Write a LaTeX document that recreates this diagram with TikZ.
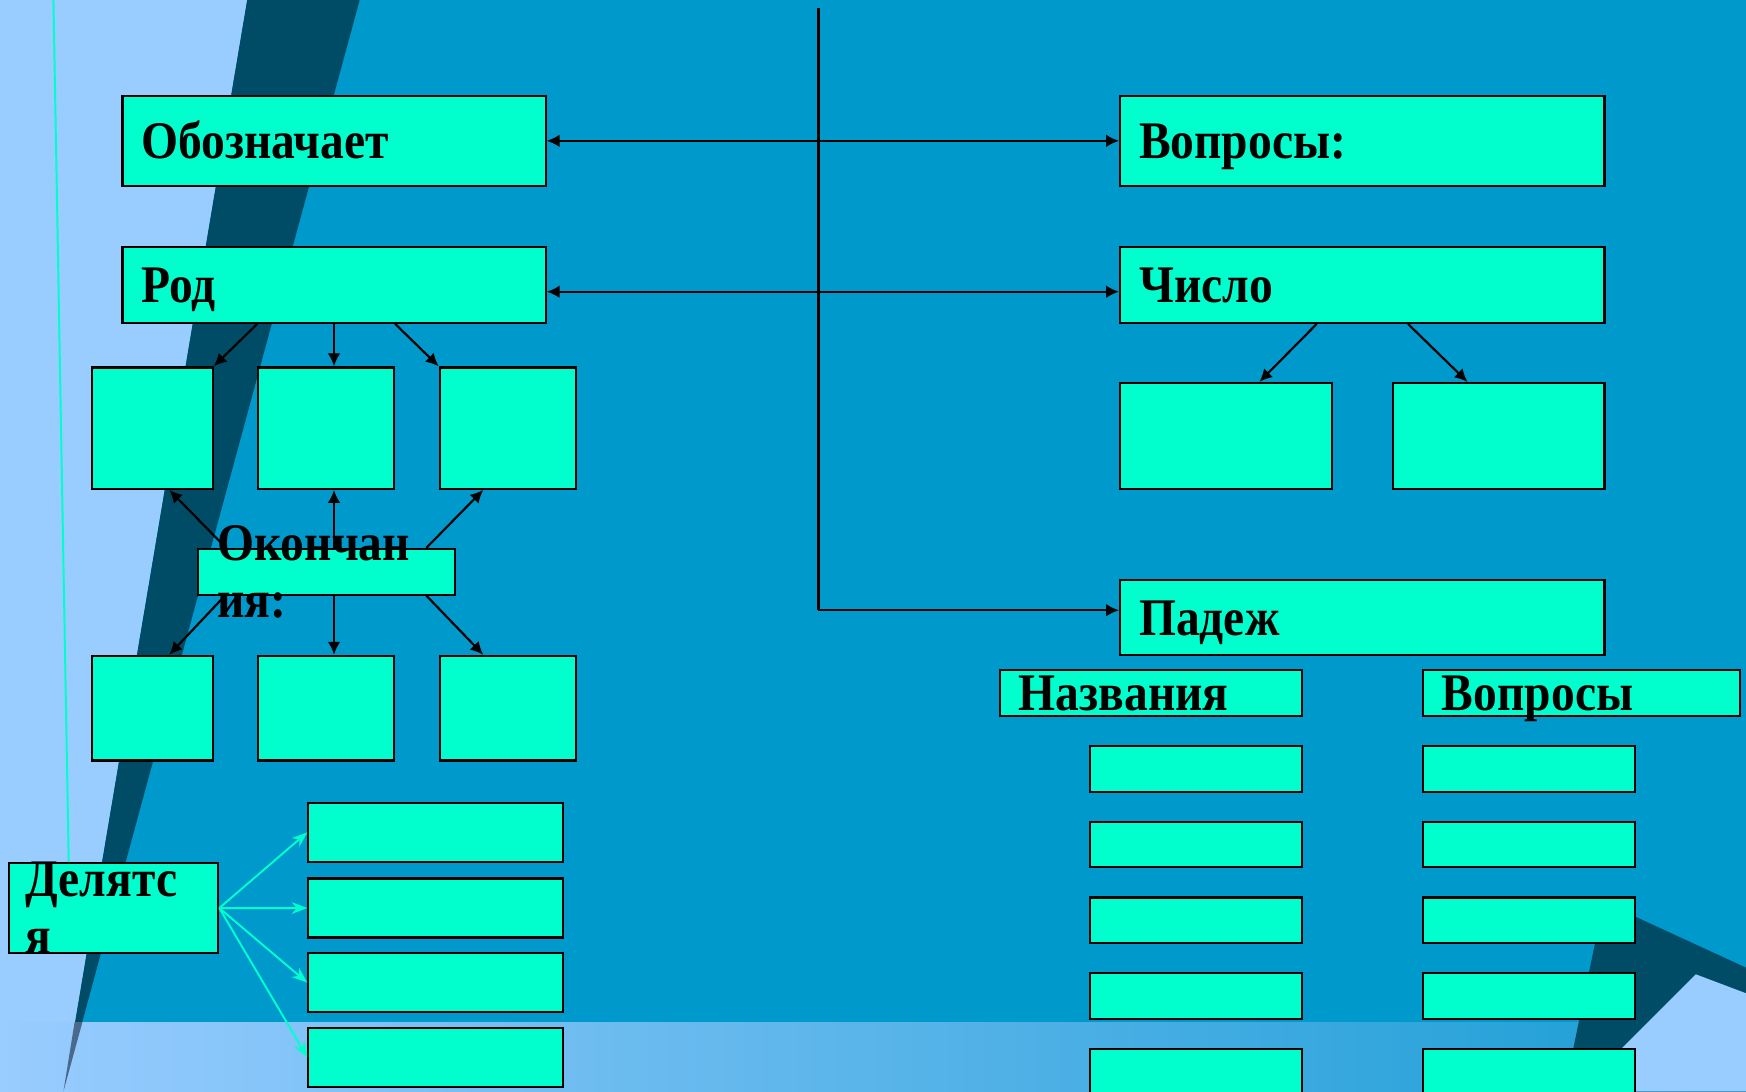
\documentclass[tikz,border=0pt]{standalone}
\usepackage{fontspec}
\setmainfont{Liberation Serif}[FakeStretch=0.9]
\usetikzlibrary{arrows.meta,positioning,calc}
\definecolor{bgmain}{RGB}{0,153,204}
\definecolor{bglight}{RGB}{153,204,255}
\definecolor{bgdark}{RGB}{0,76,102}
\definecolor{bandr}{RGB}{25,157,212}
\definecolor{stripeb}{RGB}{75,105,140}
\definecolor{cell}{RGB}{0,255,204}
\tikzset{
  cellbox/.style={rectangle, draw=black, line width=0.55pt, fill=cell, inner sep=0pt,
                  anchor=north west},
  ttl/.style={cellbox, font=\bfseries\fontsize{13.5}{14.5}\selectfont, align=left,
              text height=9pt, text depth=0pt},
  wraptxt/.style={font=\bfseries\fontsize{13.5}{14.5}\selectfont, align=left, inner sep=0pt},
  ar/.style={-{Latex[length=3.3pt,width=3.2pt]}, line width=0.55pt},
  arr/.style={{Latex[length=3.3pt,width=3.2pt]}-{Latex[length=3.3pt,width=3.2pt]}, line width=0.55pt},
  arc/.style={-{Stealth[length=4pt,width=3pt]}, draw=cell, line width=0.5pt},
  ln/.style={line width=0.55pt},
}

\begin{document}
\begin{tikzpicture}[x=0.1mm,y=-0.1mm]
\useasboundingbox (0,0) rectangle (1568,980);

% ===================== background =====================
\fill[bgmain] (0,0) rectangle (1568,980);
\fill[bglight] (0,0) -- (222,0) -- (57,980) -- (0,980) -- cycle;
\fill[bgdark] (222,0) -- (323,0) -- (57,980) -- cycle;
\draw[cell, line width=0.5pt] (48,0) -- (62,790);
\shade[left color=bglight, right color=bandr] (0,918) rectangle (1568,980);
\fill[stripeb] (67,918) -- (74,918) -- (57,980) -- cycle;
\fill[bgdark] (1440,810) -- (1568,869) -- (1568,980) -- (1405,980) -- cycle;
\fill[bglight] (1523,875) -- (1568,892) -- (1568,980) -- (1418,980) -- cycle;

% ===================== left: Род =====================
\node[ttl, minimum width=3.80cm, minimum height=0.81cm, text width=3.46cm] (obz) at (109,85) {Обозначает};
\node[ttl, minimum width=3.80cm, minimum height=0.68cm, text width=3.46cm] (rod) at (109,221) {Род};

\node[cellbox, minimum width=1.08cm, minimum height=1.09cm] (r1a) at (82,329) {};
\node[cellbox, minimum width=1.22cm, minimum height=1.09cm] (r1b) at (231,329) {};
\node[cellbox, minimum width=1.22cm, minimum height=1.09cm] (r1c) at (394,329) {};

\node[cellbox, minimum width=2.31cm, minimum height=0.41cm,
      label={[wraptxt, text width=1.97cm]center:{Окончан\\ия:}}] (ok) at (177,492) {};

\node[cellbox, minimum width=1.08cm, minimum height=0.94cm] (r2a) at (82,588) {};
\node[cellbox, minimum width=1.22cm, minimum height=0.94cm] (r2b) at (231,588) {};
\node[cellbox, minimum width=1.22cm, minimum height=0.94cm] (r2c) at (394,588) {};

\draw[ar] (rod.south -| r1b.west) -- (r1a.north east);
\draw[ar] (rod.south) -- (rod.south |- r1b.north);
\draw[ar] (rod.south -| r1b.east) -- (r1c.north west);

\draw[ar] ($(ok.north west)+(26,0)$) -- ($(r1a.south)+(15,0)$);
\draw[ar] (rod.south |- ok.north) -- (rod.south |- r1b.south);
\draw[ar] ($(ok.north east)+(-27,0)$) -- ($(r1c.south west)+(40,0)$);
\draw[ar] ($(ok.south west)+(25,0)$) -- ($(r2a.north)+(15,0)$);
\draw[ar] (rod.south |- ok.south) -- (rod.south |- r2b.north);
\draw[ar] ($(ok.south east)+(-27,0)$) -- ($(r2c.north west)+(40,0)$);

% ===================== left: Делятся =====================
\node[cellbox, minimum width=1.88cm, minimum height=0.81cm,
      label={[wraptxt, text width=1.58cm]center:{Делятс\\я}}] (del) at (7,774) {};
\foreach \i/\y in {1/720,2/788,3/855,4/922}
  \node[cellbox, minimum width=2.29cm, minimum height=0.53cm] (d\i) at (276,\y) {};
\foreach \i in {1,...,4}
  \draw[arc] (del.east) -- (d\i.west);

% ===================== right =====================
\node[ttl, minimum width=4.35cm, minimum height=0.81cm, text width=4.01cm] (vopr) at (1005,85) {Вопросы:};
\node[ttl, minimum width=4.35cm, minimum height=0.68cm, text width=4.01cm] (chislo) at (1005,221) {Число};
\node[cellbox, minimum width=1.90cm, minimum height=0.95cm] (n1) at (1005,343) {};
\node[cellbox, minimum width=1.90cm, minimum height=0.95cm] (n2) at (1250,343) {};
\node[ttl, minimum width=4.35cm, minimum height=0.67cm, text width=4.01cm] (pad) at (1005,520) {Падеж};

\draw[ar] ($(chislo.south)+(-41,0)$) -- ($(n1.north)+(30,0)$);
\draw[ar] ($(chislo.south)+(41,0)$) -- ($(n2.north)+(-28,0)$);

\node[ttl, minimum width=2.71cm, minimum height=0.41cm, text width=2.37cm] (nz) at (897,601) {Названия};
\node[ttl, minimum width=2.85cm, minimum height=0.41cm, text width=2.51cm] (vq) at (1277,601) {Вопросы};
\foreach \i/\y in {1/669,2/737,3/805,4/873,5/941} {
  \node[cellbox, minimum width=1.90cm, minimum height=0.41cm] (nm\i) at (978,\y) {};
  \node[cellbox, minimum width=1.90cm, minimum height=0.41cm] (vq\i) at (1277,\y) {};
}

% ===================== centre links =====================
\draw[arr] (obz.east) -- (vopr.west);
\draw[arr] ($(rod.east)+(0,6)$) -- ($(chislo.west)+(0,6)$);
\coordinate (vtop) at (735,7);
\coordinate (vbot) at (735,548);
\draw[ln] (vtop) -- (vbot);
\draw[ar] (vbot) -- (vbot -| pad.west);

\end{tikzpicture}
\end{document}
